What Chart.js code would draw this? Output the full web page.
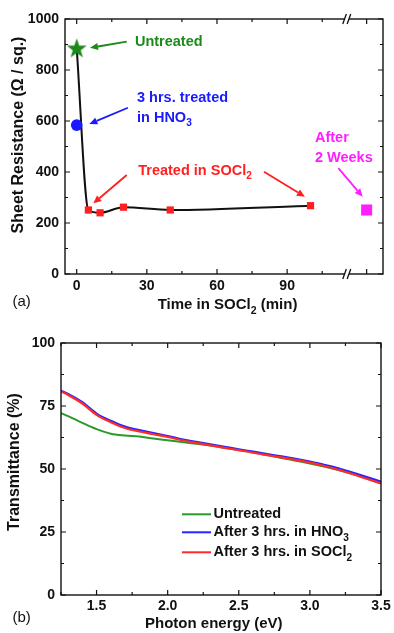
<!DOCTYPE html>
<html><head><meta charset="utf-8">
<script src="https://cdn.jsdelivr.net/npm/chart.js@4/dist/chart.umd.min.js"></script>
<style>
html,body{margin:0;padding:0;background:#fff;width:394px;height:633px;overflow:hidden}
canvas{position:absolute;left:0}
#c1{top:0}
#c2{top:320px}
</style></head><body>
<canvas id="c1" width="394" height="320"></canvas>
<canvas id="c2" width="394" height="313"></canvas>
<script>
// ---------- data: panel (a) ----------
const lineTime = [0, 5, 10, 20, 40, 100];
const lineRes = [885, 251, 240, 262, 251, 268];
const untreatedTime = [0];
const untreatedRes = [885];
const hno3Time = [0];
const hno3Res = [584];
const soclTime = [5, 10, 20, 40, 100];
const soclRes = [251, 240, 262, 251, 268];
const weeksPos = [124];          // position on broken axis ("After 2 Weeks")
const weeksRes = [251];
const aXLabels = [0, 30, 60, 90];
const aXMinor = [15, 45, 75, 105];
const aXExtraMajor = [124];
const aYLabels = [0, 200, 400, 600, 800, 1000];
const aYMinor = [100, 300, 500, 700, 900];
const aBreak = 115.5;

// ---------- data: panel (b) ----------
const energy = [1.25,1.3,1.4,1.5,1.6,1.7,1.8,1.9,2.0,2.1,2.2,2.3,2.4,2.5,2.6,2.7,2.8,2.9,3.0,3.1,3.2,3.3,3.4,3.5];
const transUntreated = [72.2,71.0,68.3,65.8,64.0,63.3,62.9,62.1,61.4,60.7,60.0,59.3,58.4,57.5,56.6,55.5,54.4,53.3,52.2,51.0,49.6,48.0,46.2,44.3];
const transHNO3 = [81.0,79.8,76.5,72.0,69.1,66.8,65.4,64.3,63.1,61.8,60.8,59.8,58.8,57.8,56.9,55.9,55.0,54.0,52.9,51.7,50.3,48.6,46.8,45.0];
const transSOCl2 = [80.8,79.4,76.0,71.5,68.6,66.3,64.9,63.8,62.7,61.4,60.4,59.4,58.4,57.5,56.5,55.5,54.6,53.6,52.5,51.2,49.7,48.0,46.1,44.3];
const bXLabels = [1.5, 2.0, 2.5, 3.0, 3.5];
const bXMinor = [1.25, 1.75, 2.25, 2.75, 3.25];
const bYLabels = [0, 25, 50, 75, 100];
const bYMinor = [12.5, 37.5, 62.5, 87.5];
const seriesNames = ['Untreated', 'After 3 hrs. in HNO_3', 'After 3 hrs. in SOCl_2'];

// ---------- styles ----------
const FAM = "'Liberation Sans', Arial, Helvetica, sans-serif";
const GREEN = '#1b8a1b', BLUE = '#1a1aff', RED = '#ff1f1f', MAG = '#ff1eff', INK = '#111';
const LGREEN = '#2a9a2a', LBLUE = '#2525ff', LRED = '#ff2a2a';
Chart.defaults.font.family = FAM;

function segs(str){
  const out=[]; let buf='';
  for(let i=0;i<str.length;i++){
    if(str[i]==='_' && i+1<str.length){ if(buf){out.push({t:buf,sub:false});buf='';} out.push({t:str[i+1],sub:true}); i++; }
    else buf+=str[i];
  }
  if(buf) out.push({t:buf,sub:false});
  return out;
}
function drawRich(ctx, str, x, y, size, align, color, weight){
  weight = weight||'bold';
  const parts = segs(str);
  const mf = weight+' '+size+'px '+FAM, sf = weight+' '+(size*0.7)+'px '+FAM;
  let w=0;
  parts.forEach(p=>{ctx.font=p.sub?sf:mf; p.w=ctx.measureText(p.t).width; w+=p.w;});
  let cx = align==='center'? x-w/2 : align==='right'? x-w : x;
  ctx.fillStyle=color; ctx.textAlign='left'; ctx.textBaseline='middle';
  parts.forEach(p=>{ctx.font=p.sub?sf:mf; ctx.fillText(p.t,cx,p.sub? y+size*0.38 : y); cx+=p.w;});
}
function arrow(ctx,x1,y1,x2,y2,color){
  const a=Math.atan2(y2-y1,x2-x1), L=8, W=3.6;
  const bx=x2-L*Math.cos(a), by=y2-L*Math.sin(a);
  ctx.strokeStyle=color; ctx.fillStyle=color; ctx.lineWidth=1.8;
  ctx.beginPath(); ctx.moveTo(x1,y1); ctx.lineTo(bx,by); ctx.stroke();
  ctx.beginPath(); ctx.moveTo(x2,y2);
  ctx.lineTo(bx+W*Math.sin(a), by-W*Math.cos(a));
  ctx.lineTo(bx-W*Math.sin(a), by+W*Math.cos(a)); ctx.closePath(); ctx.fill();
}
function frameAndTicks(chart, xMaj, xMin, yMaj, yMin){
  const ctx=chart.ctx, ca=chart.chartArea, xs=chart.scales.x, ys=chart.scales.y;
  ctx.save();
  ctx.strokeStyle=INK; ctx.lineWidth=1.4;
  ctx.strokeRect(ca.left, ca.top, ca.right-ca.left, ca.bottom-ca.top);
  ctx.lineWidth=1.2;
  ctx.beginPath();
  const tx=(v,len)=>{const p=xs.getPixelForValue(v); ctx.moveTo(p,ca.bottom); ctx.lineTo(p,ca.bottom-len); ctx.moveTo(p,ca.top); ctx.lineTo(p,ca.top+len);};
  const ty=(v,len)=>{const p=ys.getPixelForValue(v); ctx.moveTo(ca.left,p); ctx.lineTo(ca.left+len,p); ctx.moveTo(ca.right,p); ctx.lineTo(ca.right-len,p);};
  xMaj.forEach(v=>tx(v,5)); xMin.forEach(v=>tx(v,3));
  yMaj.forEach(v=>ty(v,5)); yMin.forEach(v=>ty(v,3));
  ctx.stroke();
  ctx.restore();
}

// star marker image
const starImg = document.createElement('canvas');
starImg.width=22; starImg.height=22;
(function(){const c=starImg.getContext('2d'); c.fillStyle=GREEN; c.beginPath();
  for(let i=0;i<10;i++){const r=i%2?4.2:10.5, a=-Math.PI/2+i*Math.PI/5; const px=11+r*Math.cos(a), py=11.6+r*Math.sin(a); i?c.lineTo(px,py):c.moveTo(px,py);} c.closePath(); c.fill();})();

const notesA = [
  {text:'Untreated', x:24.9, y:911, color:GREEN},
  {text:'3 hrs. treated', x:25.8, y:689, color:BLUE},
  {text:'in HNO_3', x:25.8, y:611, color:BLUE},
  {text:'Treated in SOCl_2', x:26.3, y:405, color:RED},
  {text:'After', x:101.9, y:532, color:MAG},
  {text:'2 Weeks', x:101.9, y:454, color:MAG}
];
const arrowsA = [
  {from:[21.4,911], to:[5.7,887], color:GREEN},
  {from:[21.9,652], to:[5.4,588], color:BLUE},
  {from:[21.4,388], to:[7.1,277], color:RED},
  {from:[80.1,401], to:[97.6,303], color:RED},
  {from:[111.9,415], to:[122.3,303], color:MAG}
];

const pluginA = {
  id:'decorA',
  afterDatasetsDraw(chart){
    const ctx=chart.ctx, ca=chart.chartArea, xs=chart.scales.x, ys=chart.scales.y;
    frameAndTicks(chart, aXLabels.concat(aXExtraMajor), aXMinor, aYLabels, aYMinor);
    // axis break marks
    const bx = xs.getPixelForValue(aBreak);
    ctx.save();
    [ca.top, ca.bottom].forEach(y=>{
      ctx.fillStyle='#fff'; ctx.fillRect(bx-2.2, y-1.5, 4.4, 3);
      ctx.strokeStyle=INK; ctx.lineWidth=1.3; ctx.beginPath();
      [-2.2,2.2].forEach(o=>{ctx.moveTo(bx+o-1.8,y+5); ctx.lineTo(bx+o+1.8,y-5);});
      ctx.stroke();
    });
    // annotations
    notesA.forEach(n=>drawRich(ctx,n.text,xs.getPixelForValue(n.x),ys.getPixelForValue(n.y),14.5,'left',n.color));
    arrowsA.forEach(a=>arrow(ctx,xs.getPixelForValue(a.from[0]),ys.getPixelForValue(a.from[1]),xs.getPixelForValue(a.to[0]),ys.getPixelForValue(a.to[1]),a.color));
    // titles
    drawRich(ctx,'Time in SOCl_2 (min)',227.5,305,15,'center',INK);
    ctx.save(); ctx.translate(18.3,135); ctx.rotate(-Math.PI/2);
    drawRich(ctx,'Sheet Resistance (\u03A9 / sq.)',0,0,16,'center',INK);
    ctx.restore();
    drawRich(ctx,'(a)',12.5,302,15,'left',INK,'normal');
    ctx.restore();
  }
};

new Chart(document.getElementById('c1'), {
  type:'line',
  data:{datasets:[
    {label:'Sheet resistance', data:lineTime.map((t,i)=>({x:t,y:lineRes[i]})), borderColor:INK, borderWidth:2, pointRadius:0, cubicInterpolationMode:'monotone', fill:false, order:10},
    {label:'Untreated', data:untreatedTime.map((t,i)=>({x:t,y:untreatedRes[i]})), showLine:false, pointStyle:starImg, pointRadius:10, order:1},
    {label:'3 hrs. treated in HNO3', data:hno3Time.map((t,i)=>({x:t,y:hno3Res[i]})), showLine:false, pointStyle:'circle', pointRadius:5.8, backgroundColor:BLUE, borderColor:BLUE, borderWidth:0, order:2},
    {label:'Treated in SOCl2', data:soclTime.map((t,i)=>({x:t,y:soclRes[i]})), showLine:false, pointStyle:'rect', pointRadius:5.1, backgroundColor:RED, borderColor:RED, borderWidth:0, order:3},
    {label:'After 2 Weeks', data:weeksPos.map((t,i)=>({x:t,y:weeksRes[i]})), showLine:false, pointStyle:'rect', pointRadius:7.8, backgroundColor:MAG, borderColor:MAG, borderWidth:0, order:4}
  ]},
  options:{
    responsive:false, animation:false, devicePixelRatio:1,
    layout:{padding:{top:19,right:11,left:0,bottom:0}},
    plugins:{legend:{display:false}, tooltip:{enabled:false}},
    scales:{
      x:{type:'linear', min:-5, max:131,
        afterBuildTicks:s=>{s.ticks=aXLabels.map(v=>({value:v}));},
        afterFit:s=>{s.height=46;},
        grid:{display:false, drawTicks:false}, border:{display:false},
        ticks:{font:{size:14,weight:'bold'}, color:INK, padding:4, maxRotation:0, autoSkip:false, callback:v=>String(v)}},
      y:{type:'linear', min:0, max:1000,
        afterBuildTicks:s=>{s.ticks=aYLabels.map(v=>({value:v}));},
        afterFit:s=>{s.width=65;},
        grid:{display:false, drawTicks:false}, border:{display:false},
        ticks:{font:{size:14,weight:'bold'}, color:INK, padding:6, autoSkip:false, callback:v=>String(v)}}
    }
  },
  plugins:[pluginA]
});

const legendB = {rows:[194.3, 212.3, 232.3], x1:182, x2:211, tx:213.5};
const pluginB = {
  id:'decorB',
  afterDatasetsDraw(chart){
    const ctx=chart.ctx;
    frameAndTicks(chart, bXLabels, bXMinor, bYLabels, bYMinor);
    ctx.save();
    // legend
    [0,1,2].forEach(i=>{
      const ds=chart.data.datasets[i], y=legendB.rows[i];
      ctx.strokeStyle=ds.borderColor; ctx.lineWidth=2; ctx.beginPath(); ctx.moveTo(legendB.x1,y); ctx.lineTo(legendB.x2,y); ctx.stroke();
      drawRich(ctx, seriesNames[i], legendB.tx, y, 14.5, 'left', INK);
    });
    drawRich(ctx,'Photon energy (eV)',213.8,304,15,'center',INK);
    ctx.save(); ctx.translate(14.8,142); ctx.rotate(-Math.PI/2);
    drawRich(ctx,'Transmittance (%)',0,0,16,'center',INK);
    ctx.restore();
    drawRich(ctx,'(b)',12.5,298,15,'left',INK,'normal');
    ctx.restore();
  }
};

new Chart(document.getElementById('c2'), {
  type:'line',
  data:{datasets:[
    {label:seriesNames[0], data:energy.map((e,i)=>({x:e,y:transUntreated[i]})), borderColor:LGREEN, borderWidth:2, pointRadius:0, cubicInterpolationMode:'monotone', order:3},
    {label:seriesNames[1], data:energy.map((e,i)=>({x:e,y:transHNO3[i]})), borderColor:LBLUE, borderWidth:2.2, pointRadius:0, cubicInterpolationMode:'monotone', order:2},
    {label:seriesNames[2], data:energy.map((e,i)=>({x:e,y:transSOCl2[i]})), borderColor:LRED, borderWidth:2.2, pointRadius:0, cubicInterpolationMode:'monotone', order:1}
  ]},
  options:{
    responsive:false, animation:false, devicePixelRatio:1,
    layout:{padding:{top:23,right:13,left:0,bottom:0}},
    plugins:{legend:{display:false}, tooltip:{enabled:false}},
    scales:{
      x:{type:'linear', min:1.25, max:3.5,
        afterBuildTicks:s=>{s.ticks=bXLabels.map(v=>({value:v}));},
        afterFit:s=>{s.height=38;},
        grid:{display:false, drawTicks:false}, border:{display:false},
        ticks:{font:{size:14,weight:'bold'}, color:INK, padding:3, maxRotation:0, autoSkip:false, callback:v=>Number(v).toFixed(1)}},
      y:{type:'linear', min:0, max:100,
        afterBuildTicks:s=>{s.ticks=bYLabels.map(v=>({value:v}));},
        afterFit:s=>{s.width=61;},
        grid:{display:false, drawTicks:false}, border:{display:false},
        ticks:{font:{size:14,weight:'bold'}, color:INK, padding:6, autoSkip:false, callback:v=>String(v)}}
    }
  },
  plugins:[pluginB]
});
</script>
</body></html>
